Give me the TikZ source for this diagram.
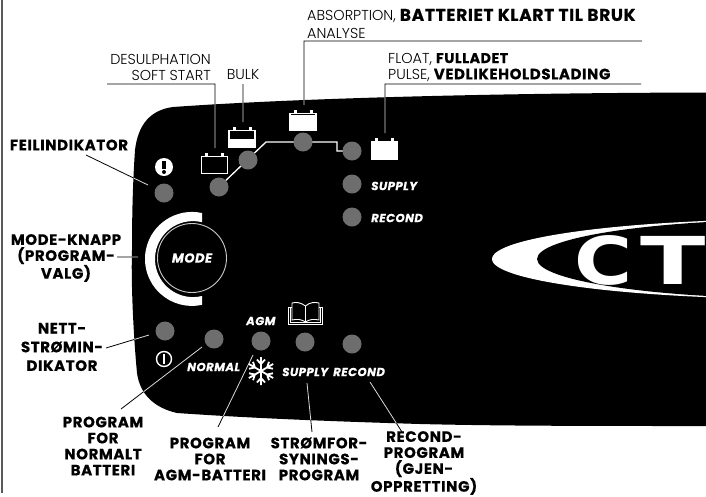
\documentclass[tikz,border=0pt]{standalone}
\usepackage{fontspec}
\setmainfont{Poppins Light}[BoldFont={Poppins},BoldFeatures={RawFeature={embolden=1}},ItalicFont={Poppins Light}]
\newfontfamily\heavyfont{Poppins}[BoldFont={Poppins Bold},BoldFeatures={FakeBold=0.5,LetterSpace=4},BoldItalicFont={Poppins Bold Italic},BoldItalicFeatures={FakeBold=0.5,LetterSpace=4}]
\newfontfamily\logofont{DejaVu Sans}
\usetikzlibrary{positioning}
\definecolor{ledgray}{gray}{0.43}
\definecolor{framegray}{gray}{0.35}
\newcommand{\panelshape}{(135,150) .. controls (138,125) and (150,110) .. (173,107) .. controls (300,98) and (500,93) .. (706,92.5) -- (706,426) .. controls (600,426) and (500,426) .. (420,424) .. controls (320,421) and (250,418) .. (177,413) .. controls (155,408) and (140,395) .. (137,373) .. controls (133,330) and (131,280) .. (132,250) .. controls (132,210) and (133,180) .. (135,150) -- cycle}
\newcommand{\leaderlines}{(feilA) -- (feilB) (modeA) -- (modeB) (nettA) -- (nettB) (normA) -- (normB) (agmA) -- (agmB) (supA) -- (supB) (recA) -- (recB) (desA) -- (desB) -- (desC) (bulkA) -- (bulkB) (absA) -- (absB) -- (absC) (floA) -- (floB) -- (floC)}
\begin{document}
\begin{tikzpicture}[x=1pt,y=-1pt,
led/.style={circle,fill=ledgray,minimum size=19pt,inner sep=0},
batt/.style={rectangle,draw=white,line width=1.1pt,minimum width=26pt,minimum height=17pt,inner sep=0},
lbl/.style={align=center,inner sep=0,font=\fontsize{15}{16}\selectfont\heavyfont\bfseries},
thin lbl/.style={inner sep=0,font=\fontsize{14.4}{16}\selectfont},
tag/.style={anchor=west,inner sep=0,text=white,font=\fontsize{11.7}{12}\selectfont\heavyfont\bfseries\itshape},
leader/.style={line width=0.8pt}]
\useasboundingbox (0,0) rectangle (706,496);
\fill[white] (0,0) rectangle (706,496);
\draw[framegray,line width=1.2pt] (2,0) -- (2,493);
\fill[black] \panelshape;

% leader ends
\coordinate (feilA) at (86,155);   \coordinate (feilB) at (148,185);
\coordinate (modeA) at (117,257);  \coordinate (modeB) at (138,257);
\coordinate (nettA) at (106,348);  \coordinate (nettB) at (149,335);
\coordinate (normA) at (121,409);  \coordinate (normB) at (202,347);
\coordinate (agmA) at (218,427);   \coordinate (agmB) at (253,355);
\coordinate (supA) at (312,432);   \coordinate (supB) at (307,383);
\coordinate (recA) at (402,432);   \coordinate (recB) at (370,382);
\coordinate (desA) at (107,84);    \coordinate (desB) at (215,84);   \coordinate (desC) at (215,148);
\coordinate (bulkA) at (243,84);   \coordinate (bulkB) at (243,122);
\coordinate (absA) at (642,41);    \coordinate (absB) at (304,41);   \coordinate (absC) at (304,105);
\coordinate (floA) at (641,84);    \coordinate (floB) at (385,84);   \coordinate (floC) at (385,133);
\draw[leader,black] \leaderlines;
\begin{scope}
\clip \panelshape;
\draw[leader,white!85!black] \leaderlines;
% logo
\fill[white] (800,259) ellipse [x radius=308pt,y radius=40pt];
\fill[black] (800,259) ellipse [x radius=263pt,y radius=39.5pt];
\node[anchor=base west,inner sep=0,text=white,font=\fontsize{66}{66}\logofont\bfseries] (logo) at (574,284) {\scalebox{1.2}[1]{C}\hspace{8pt}\scalebox{1.45}[1]{T}};
\end{scope}

% charge line
\draw[white,line width=1.3pt] (219,187) -- (266,142) -- (337,142) -- (337,151) -- (352,151);

\node[led] (ledF) at (164,193) {};
\node[led] (ledA) at (219,187) {};
\node[led] (ledB) at (248,160) {};
\node[led] (ledC) at (303,142) {};
\node[led] (ledD) at (352,151) {};
\node[led] (ledE) at (352,184) {};
\node[led] (ledR) at (352,217) {};
\node[led] (ledP) at (165,331) {};
\node[led] (ledN) at (214,339) {};
\node[led] (ledG) at (261,341) {};
\node[led] (ledS) at (305,342) {};
\node[led] (ledO) at (352,344) {};

% batteries
\node[batt] (battA) at (214.5,165) {};
\fill[white] (228,139) rectangle (256,148);
\node[batt] (battB) at (242,139) {};
\fill[white] (289,114.5) rectangle (317,131);
\node[batt] (battC) at (303,122) {};
\node[batt,fill=white] (battD) at (384.5,150.5) {};
\foreach \b in {battA,battB,battC,battD}
\foreach \s in {-8,8}
\fill[white] ([xshift=\s pt]\b.north) ++(-1.5,0) rectangle ++(3,-3);

% warning and power signs
\node[circle,fill=white,minimum size=18pt,inner sep=0] (warn) at (164,167) {};
\fill[black] (162.2,161) rectangle (165.8,169);
\fill[black] (164,172) circle (2pt);
\node[circle,draw=white,line width=1.4pt,minimum size=15pt,inner sep=0] (pwr) at (164,359) {};
\draw[white,line width=1.6pt] (164,354) -- (164,364);

% mode button
\fill[white] (202,213) arc[start angle=77.7,end angle=282.3,radius=47pt] -- (202,296) arc[start angle=283.7,end angle=76.3,radius=38pt] -- cycle;
\node[circle,draw=white!80!black,line width=0.9pt,minimum size=69pt,inner sep=0,text=white,font=\fontsize{13}{14}\selectfont\heavyfont\bfseries\itshape] (mode) at (192,258) {MODE};

% book
\draw[white,line width=0.9pt] (305.5,306) .. controls (300,302) and (296,302) .. (292,303) -- (292,320) .. controls (297,319) and (301,319) .. (305.5,322) .. controls (310,319) and (314,319) .. (319,320) -- (319,303) .. controls (315,302) and (310,302) .. (305.5,306) -- (305.5,322);
\draw[white,line width=0.9pt] (292,307) -- (288.5,307) -- (288.5,324) -- (322.5,324) -- (322.5,307) -- (319,307) (290.3,307) -- (290.3,322) -- (320.7,322) -- (320.7,307);

% snowflake
\foreach \a in {30,90,150,210,270,330}
\draw[white,line width=1.8pt,shift={(261,371)},rotate=\a] (0,0) -- (14,0) (7,0) -- (11.5,4) (7,0) -- (11.5,-4);

% tags on the panel
\node[tag] (tagS) at (371,186) {SUPPLY};
\node[tag] (tagR) at (371,218) {RECOND};
\node[tag] (tagG) at (246,321) {AGM};
\node[tag] (tagN) at (187,367) {NORMAL};
\node[tag] (tagY) at (282,372) {SUPPLY};
\node[tag] (tagO) at (333,372) {RECOND};

% labels
\node[lbl] (feil) at (69,145) {FEILINDIKATOR};
\node[lbl] (knapp) at (66,258) {MODE-KNAPP\\(PROGRAM-\\VALG)};
\node[lbl,font=\fontsize{15}{18.7}\selectfont\heavyfont\bfseries] (nett) at (62,347) {NETT-\\STRØMIN-\\DIKATOR};
\node[lbl] (normal) at (103,446) {PROGRAM\\FOR\\NORMALT\\BATTERI};
\node[lbl] (agm) at (210,459) {PROGRAM\\FOR\\AGM-BATTERI};
\node[lbl] (forsyn) at (319,459) {STRØMFOR-\\SYNINGS-\\PROGRAM};
\node[lbl] (recond) at (424,463) {RECOND-\\PROGRAM\\(GJEN-\\OPPRETTING)};
\node[thin lbl,anchor=east] (des) at (211,59) {DESULPHATION};
\node[thin lbl,anchor=east] (soft) at (211,75) {SOFT START};
\node[thin lbl] (bulk) at (243,75) {BULK};
\node[thin lbl,anchor=west] (abs) at (307,16) {ABSORPTION, {\fontsize{17}{16}\selectfont\heavyfont\bfseries BATTERIET KLART TIL BRUK}};
\node[thin lbl,anchor=west] (ana) at (307,33) {ANALYSE};
\node[thin lbl,anchor=west] (flo) at (388,59) {FLOAT, {\fontsize{14.2}{16}\selectfont\heavyfont\bfseries FULLADET}};
\node[thin lbl,anchor=west] (pul) at (388,75) {PULSE, {\fontsize{15}{16}\selectfont\heavyfont\bfseries VEDLIKEHOLDSLADING}};
\end{tikzpicture}
\end{document}
